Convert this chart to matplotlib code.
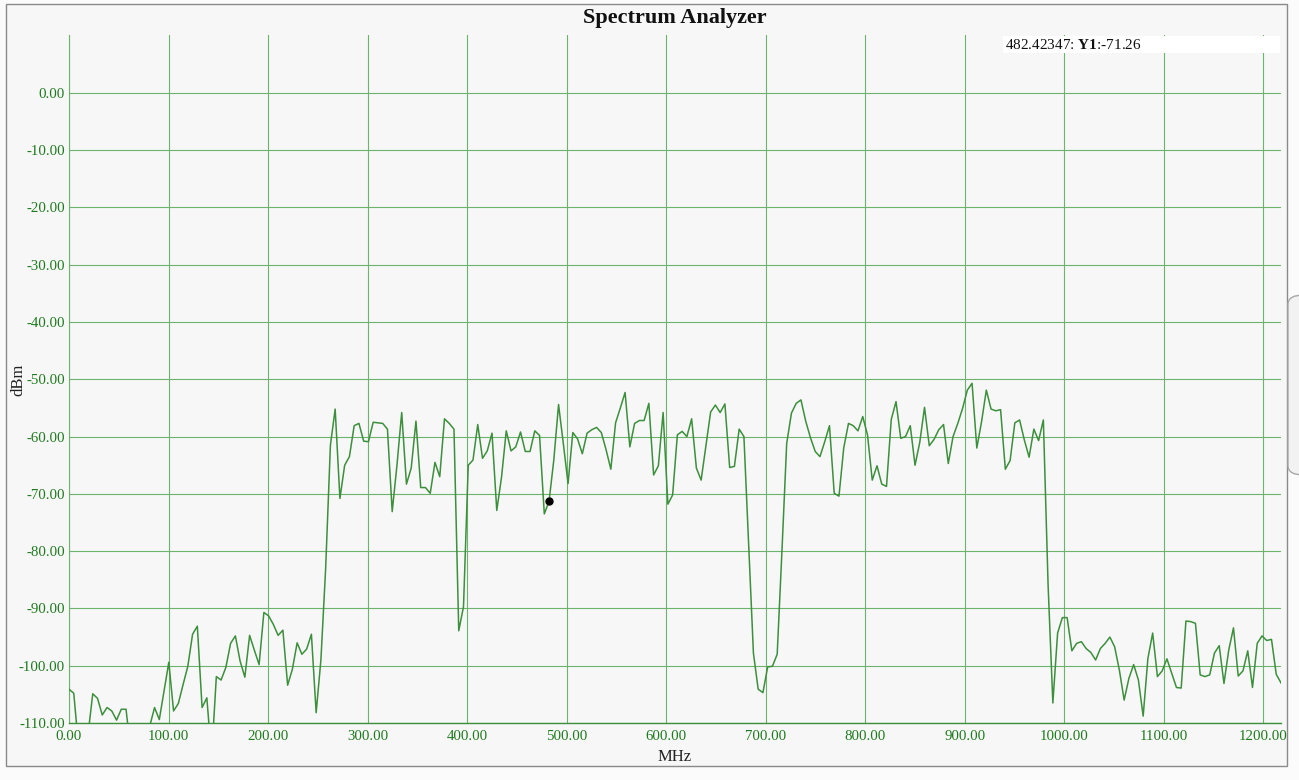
import numpy as np
import matplotlib
matplotlib.use("Agg")
import matplotlib.pyplot as plt
from matplotlib.patches import Rectangle, FancyBboxPatch

# sweep settings (point 101 -> 482.42347 MHz)
freq_step_mhz = 4.7764

# measured level per sweep point, dBm (values below -110 fall off the plot)
level_dbm = [
    -104.1, -104.8, -114.0, -116.0, -112.0, -104.9, -105.7, -108.6, -107.3, -107.9,
    -109.5, -107.6, -107.6, -115.0, -117.0, -116.0, -114.0, -110.5, -107.3, -109.4,
    -104.4, -99.4, -107.9, -106.6, -103.3, -100.1, -94.5, -93.1, -107.3, -105.6,
    -116.0, -101.9, -102.5, -100.3, -96.1, -94.8, -99.2, -102.0, -94.7, -97.3,
    -99.8, -90.7, -91.3, -92.8, -94.7, -93.8, -103.4, -100.6, -96.0, -98.0,
    -97.1, -94.5, -108.2, -99.0, -83.0, -61.5, -55.2, -70.8, -65.0, -63.5,
    -58.1, -57.7, -60.8, -60.9, -57.5, -57.6, -57.7, -58.7, -73.1, -65.0,
    -55.8, -68.3, -65.5, -57.3, -68.9, -68.9, -69.9, -64.5, -67.0, -56.9,
    -57.7, -58.7, -93.9, -89.7, -65.0, -64.1, -57.9, -63.8, -62.5, -59.4,
    -72.9, -67.1, -59.0, -62.5, -61.8, -59.2, -62.6, -62.6, -59.0, -59.8,
    -73.5, -71.3, -64.1, -54.4, -61.2, -68.2, -59.3, -60.4, -63.0, -59.4,
    -58.8, -58.4, -59.3, -62.3, -65.7, -57.6, -55.0, -52.3, -61.8, -57.7,
    -57.2, -57.2, -54.2, -66.7, -65.1, -55.8, -71.8, -70.2, -59.7, -59.1,
    -60.0, -56.9, -65.5, -67.6, -61.6, -55.7, -54.5, -55.8, -54.3, -65.4,
    -65.2, -58.7, -60.0, -79.0, -97.8, -104.1, -104.7, -100.2, -100.1, -98.0,
    -80.0, -61.2, -55.9, -54.2, -53.6, -57.3, -60.2, -62.6, -63.5, -60.9,
    -58.1, -69.9, -70.4, -62.0, -57.7, -58.1, -59.0, -56.5, -59.7, -67.6,
    -65.1, -68.3, -68.7, -57.0, -53.9, -60.3, -60.0, -58.1, -65.0, -61.0,
    -54.9, -61.6, -60.5, -58.8, -57.9, -64.7, -60.0, -57.7, -55.1, -51.9,
    -50.7, -62.0, -57.4, -51.9, -55.2, -55.5, -55.3, -65.7, -64.2, -57.6,
    -57.1, -60.6, -63.6, -58.7, -60.7, -57.1, -86.0, -106.5, -94.3, -91.6,
    -91.6, -97.4, -96.1, -95.8, -97.0, -97.7, -99.0, -97.0, -96.1, -95.0,
    -96.7, -100.8, -106.0, -102.2, -99.8, -102.5, -108.8, -98.7, -94.3, -101.9,
    -100.9, -98.8, -101.3, -103.8, -103.9, -92.2, -92.3, -92.6, -101.6, -101.9,
    -101.6, -97.8, -96.5, -103.1, -97.3, -93.4, -101.8, -100.9, -97.4, -103.8,
    -96.1, -94.8, -95.6, -95.4, -101.5, -103.0,
]

marker_freq = 482.42347
marker_level = -71.26

x_ticks = [0, 100, 200, 300, 400, 500, 600, 700, 800, 900, 1000, 1100, 1200]
y_ticks = [0, -10, -20, -30, -40, -50, -60, -70, -80, -90, -100, -110]

freqs = np.arange(len(level_dbm)) * freq_step_mhz

plt.rcParams['font.family'] = ['Liberation Serif', 'DejaVu Serif']
plt.rcParams['mathtext.fontset'] = 'custom'
plt.rcParams['mathtext.rm'] = 'Liberation Serif'
plt.rcParams['mathtext.bf'] = 'Liberation Serif:bold'

W, H = 1299, 780
fig = plt.figure(figsize=(W / 100, H / 100), dpi=100)
fig.patch.set_facecolor('#fbfbfb')

# outer frame of the widget
fig.patches.append(Rectangle((6 / W, 1 - 766 / H), 1281 / W, 762 / H,
                             transform=fig.transFigure, facecolor='#f7f7f7',
                             edgecolor='#8a8a8a', linewidth=1.0, zorder=-5))
# bit of the scroll handle showing at the right edge
fig.patches.append(FancyBboxPatch((1288 / W, 1 - 475 / H), 30 / W, 180 / H,
                                  boxstyle="round,pad=0,rounding_size=0.012",
                                  transform=fig.transFigure, facecolor='#f2f2f2',
                                  edgecolor='#a8a8a8', linewidth=1.0, zorder=-4))

ax = fig.add_axes([69 / W, 1 - 723 / H, 1212 / W, 688 / H])
ax.set_facecolor('none')

grid_col = '#6db36d'
ax.plot(freqs, level_dbm, color='#3c8f3c', linewidth=1.1, zorder=3)
ax.plot([marker_freq], [marker_level], 'o', color='black', markersize=5, zorder=4)

ax.set_xlim(0, freqs[-1])
ax.set_ylim(-110, 10.1)
ax.set_xticks(x_ticks)
ax.set_yticks(y_ticks)
ax.set_xticklabels([f"{v:.2f}" for v in x_ticks])
ax.set_yticklabels([f"{v:.2f}" for v in y_ticks])
ax.tick_params(length=0, labelsize=10.7, labelcolor='#1f7a1f')
ax.tick_params(axis='x', pad=5)
ax.tick_params(axis='y', pad=3)

ax.grid(True, color=grid_col, linewidth=0.8)
for side in ['top', 'right']:
    ax.spines[side].set_visible(False)
ax.spines['left'].set_color(grid_col)
ax.spines['bottom'].set_color('#3c8f3c')
ax.spines['left'].set_linewidth(0.8)
ax.spines['bottom'].set_linewidth(1.0)

fig.text(675 / W, 1 - 18 / H, "Spectrum Analyzer", ha='center', va='center',
         fontsize=16, fontweight='bold', color='#111111')
fig.text(675 / W, 1 - 757 / H, "MHz", ha='center', va='center', fontsize=12,
         color='#222222')
fig.text(18 / W, 1 - 380 / H, "dBm", ha='center', va='center', rotation=90,
         fontsize=12, color='#222222')

# marker readout box
fig.patches.append(Rectangle((1003 / W, 1 - 53 / H), 277 / W, 17 / H,
                             transform=fig.transFigure, facecolor='white',
                             edgecolor='none', zorder=5))
fig.text(1005 / W, 1 - 45 / H, f"{marker_freq:.5f}: $\\mathbf{{Y1}}$:{marker_level:.2f}",
         ha='left', va='center', fontsize=11, color='#111111', zorder=6)

fig.savefig("out.png", dpi=100, facecolor=fig.get_facecolor())
